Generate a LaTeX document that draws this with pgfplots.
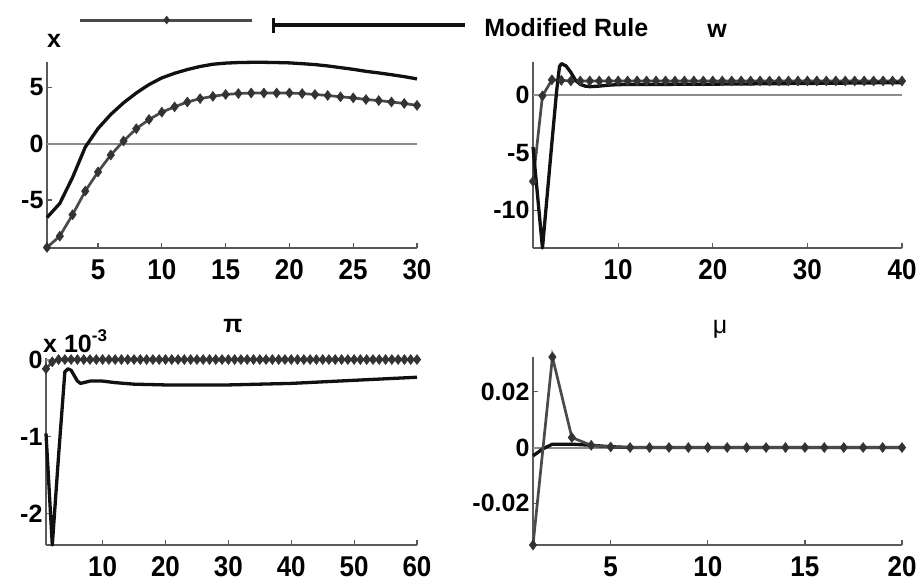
\documentclass[border=0pt]{standalone}
\usepackage{fontspec}
\setmainfont{Liberation Sans}
\usepackage{pgfplots}
\pgfplotsset{compat=1.18}
\definecolor{axisgray}{HTML}{5A5A5A}
\definecolor{zerogray}{HTML}{8C8C8C}
\definecolor{markgray}{HTML}{4A4A4A}
\definecolor{markfill}{HTML}{333333}
\definecolor{curveblack}{HTML}{111111}
\pgfplotsset{
  panel/.style={
    scale only axis, clip=false, anchor=south west,
    axis x line*=bottom, axis y line*=left,
    axis line style={draw=axisgray, line width=1.3pt, -},
    tick align=inside, major tick length=5pt,
    major tick style={draw=axisgray, line width=1.2pt},
    scaled y ticks=false, scaled x ticks=false,
    yticklabel style={font=\bfseries\fontsize{25}{28}\selectfont, text=black},
    xticklabel style={font=\bfseries\fontsize{26}{28}\selectfont, text=black, yshift=-8pt, yscale=1.1},
    /pgf/number format/assume math mode=true,
  },
  zeroline/.style={draw=zerogray, line width=2pt, no markers, forget plot},
  markline/.style={draw=markgray, line width=2.7pt, mark=diamond*, mark size=5pt,
    mark options={solid, fill=markfill, draw=markfill, line width=0.5pt}, forget plot},
  blackline/.style={draw=curveblack, line width=3.3pt, no markers, line join=round, forget plot},
}
\begin{document}
\begin{tikzpicture}
\useasboundingbox (0,0) rectangle (918pt,584pt);
% ---------------- x ----------------
\begin{axis}[panel, at={(47pt,336pt)}, width=370pt, height=186pt,
  xmin=1, xmax=30, ymin=-9.25, ymax=7.25,
  xtick={5,10,15,20,25,30}, xticklabels={5,10,15,20,25,30},
  ytick={-5,0,5}, yticklabels={-5,0,5},
  legend style={at={(0.0838,1.183)}, anchor=west, draw=none, fill=none, inner sep=0pt,
    font=\bfseries\fontsize{25}{28}\selectfont, legend cell align=left},
]
\addplot[zeroline] coordinates {(1,0) (30,0)};
\addplot[markline] coordinates {
(1,-9.2) (2,-8.2) (3,-6.3) (4,-4.2) (5,-2.5) (6,-1.0) (7,0.24) (8,1.33) (9,2.15) (10,2.8)
(11,3.27) (12,3.7) (13,4.0) (14,4.2) (15,4.37) (16,4.45) (17,4.5) (18,4.5) (19,4.5) (20,4.5)
(21,4.45) (22,4.37) (23,4.28) (24,4.16) (25,4.07) (26,3.92) (27,3.83) (28,3.7) (29,3.57) (30,3.4)};
\addplot[blackline] coordinates {
(1,-6.55) (2,-5.3) (3,-3.0) (4,-0.3) (5,1.35) (6,2.6) (7,3.63) (8,4.5) (9,5.25) (10,5.84)
(11,6.25) (12,6.58) (13,6.85) (14,7.05) (15,7.15) (16,7.2) (17,7.22) (18,7.22) (19,7.2) (20,7.17)
(21,7.1) (22,7.02) (23,6.9) (24,6.75) (25,6.6) (26,6.42) (27,6.28) (28,6.12) (29,5.95) (30,5.75)};
\addlegendimage{legend image code/.code={
  \draw[draw=markgray, line width=3pt] (0pt,8pt) -- (172pt,8pt);
  \draw[draw=markgray, mark=diamond*, mark size=4pt, mark options={fill=markfill, draw=markfill}] plot coordinates {(87pt,8pt)};
  \draw[draw=curveblack, line width=3.5pt] (192pt,3pt) -- (385pt,3pt);
  \draw[draw=curveblack, line width=3pt] (193.5pt,-5pt) -- (193.5pt,10pt);
}}
\addlegendentry{\hspace{16pt}Modified Rule}
\end{axis}
% ---------------- w ----------------
\begin{axis}[panel, at={(533pt,336pt)}, width=369pt, height=186pt,
  xmin=1, xmax=40, ymin=-13.3, ymax=2.9,
  xtick={10,20,30,40}, xticklabels={10,20,30,40},
  ytick={-10,-5,0}, yticklabels={-10,-5,0},
]
\addplot[zeroline] coordinates {(1,0) (40,0)};
\addplot[markline] coordinates {
(1,-7.5) (2,-0.05) (3,1.35) (4,1.3) (5,1.25) (6,1.25) (7,1.25) (8,1.25) (9,1.25) (10,1.25)
(11,1.25) (12,1.25) (13,1.25) (14,1.25) (15,1.25) (16,1.25) (17,1.25) (18,1.25) (19,1.25) (20,1.25)
(21,1.25) (22,1.25) (23,1.25) (24,1.25) (25,1.25) (26,1.25) (27,1.25) (28,1.25) (29,1.25) (30,1.25)
(31,1.25) (32,1.25) (33,1.25) (34,1.25) (35,1.25) (36,1.25) (37,1.25) (38,1.25) (39,1.25) (40,1.25)};
\addplot[blackline] coordinates {
(1,-4.5) (2,-13.3) (2.5,-8.7) (3,-4.1) (3.5,0.4) (3.8,2.5) (4,2.76) (4.5,2.55) (5,2.0) (5.5,1.3)
(6,0.95) (6.5,0.8) (7,0.75) (8,0.8) (9,0.88) (10,0.93) (15,0.95) (20,0.97) (25,1.0) (30,1.03) (35,1.07) (40,1.1)};
\end{axis}
% ---------------- pi ----------------
\begin{axis}[panel, at={(46pt,39pt)}, width=371pt, height=187pt,
  xmin=1, xmax=60, ymin=-2.41, ymax=0.02,
  xtick={10,20,30,40,50,60}, xticklabels={10,20,30,40,50,60},
  ytick={-2,-1,0}, yticklabels={-2,-1,0},
]
\addplot[zeroline] coordinates {(1,0) (60,0)};
\addplot[markline] coordinates {
(1,-0.12) (2,-0.03) (3,0) (4,0) (5,0) (6,0) (7,0) (8,0) (9,0) (10,0)
(11,0) (12,0) (13,0) (14,0) (15,0) (16,0) (17,0) (18,0) (19,0) (20,0)
(21,0) (22,0) (23,0) (24,0) (25,0) (26,0) (27,0) (28,0) (29,0) (30,0)
(31,0) (32,0) (33,0) (34,0) (35,0) (36,0) (37,0) (38,0) (39,0) (40,0)
(41,0) (42,0) (43,0) (44,0) (45,0) (46,0) (47,0) (48,0) (49,0) (50,0)
(51,0) (52,0) (53,0) (54,0) (55,0) (56,0) (57,0) (58,0) (59,0) (60,0)};
\addplot[blackline] coordinates {
(1,-0.96) (2,-2.41) (3,-1.25) (4,-0.16) (4.5,-0.12) (5,-0.14) (5.5,-0.21) (6,-0.28) (6.5,-0.31) (7,-0.30)
(8,-0.28) (10,-0.28) (12,-0.30) (15,-0.32) (20,-0.33) (25,-0.33) (30,-0.33) (35,-0.32) (40,-0.31)
(45,-0.29) (50,-0.27) (55,-0.25) (60,-0.23)};
\end{axis}
% ---------------- mu ----------------
\begin{axis}[panel, at={(533pt,39pt)}, width=369pt, height=188pt,
  xmin=1, xmax=20, ymin=-0.035, ymax=0.0325,
  xtick={5,10,15,20}, xticklabels={5,10,15,20},
  ytick={-0.02,0,0.02}, yticklabels={-0.02,0,0.02},
]
\addplot[zeroline] coordinates {(1,0) (20,0)};
\addplot[blackline] coordinates {
(1,-0.003) (1.5,-0.0005) (2,0.0012) (3,0.0012) (4,0.0008) (5,0.0003) (6,0) (8,0) (10,0) (15,0) (20,0)};
\addplot[markline] coordinates {
(1,-0.035) (2,0.0325) (3,0.0036) (4,0.0008) (5,0.0002) (6,0) (7,0) (8,0) (9,0) (10,0)
(11,0) (12,0) (13,0) (14,0) (15,0) (16,0) (17,0) (18,0) (19,0) (20,0)};
\end{axis}
% ---------------- titles ----------------
\node[anchor=base, font=\bfseries\fontsize{25}{28}\selectfont] at (54pt,536pt) {x};
\node[anchor=base, font=\bfseries\fontsize{25}{28}\selectfont] at (717pt,546pt) {w};
\node[anchor=base, font=\bfseries\fontsize{25}{28}\selectfont] at (233pt,251pt) {π};
\node[anchor=base, font=\fontsize{25}{28}\selectfont] at (720pt,250pt) {μ};
\node[anchor=base west, inner sep=0pt] at (43pt,231pt) {\bfseries\fontsize{25}{28}\selectfont x 10\raisebox{11pt}{\fontsize{17}{18}\selectfont -3}};
\end{tikzpicture}
\end{document}
